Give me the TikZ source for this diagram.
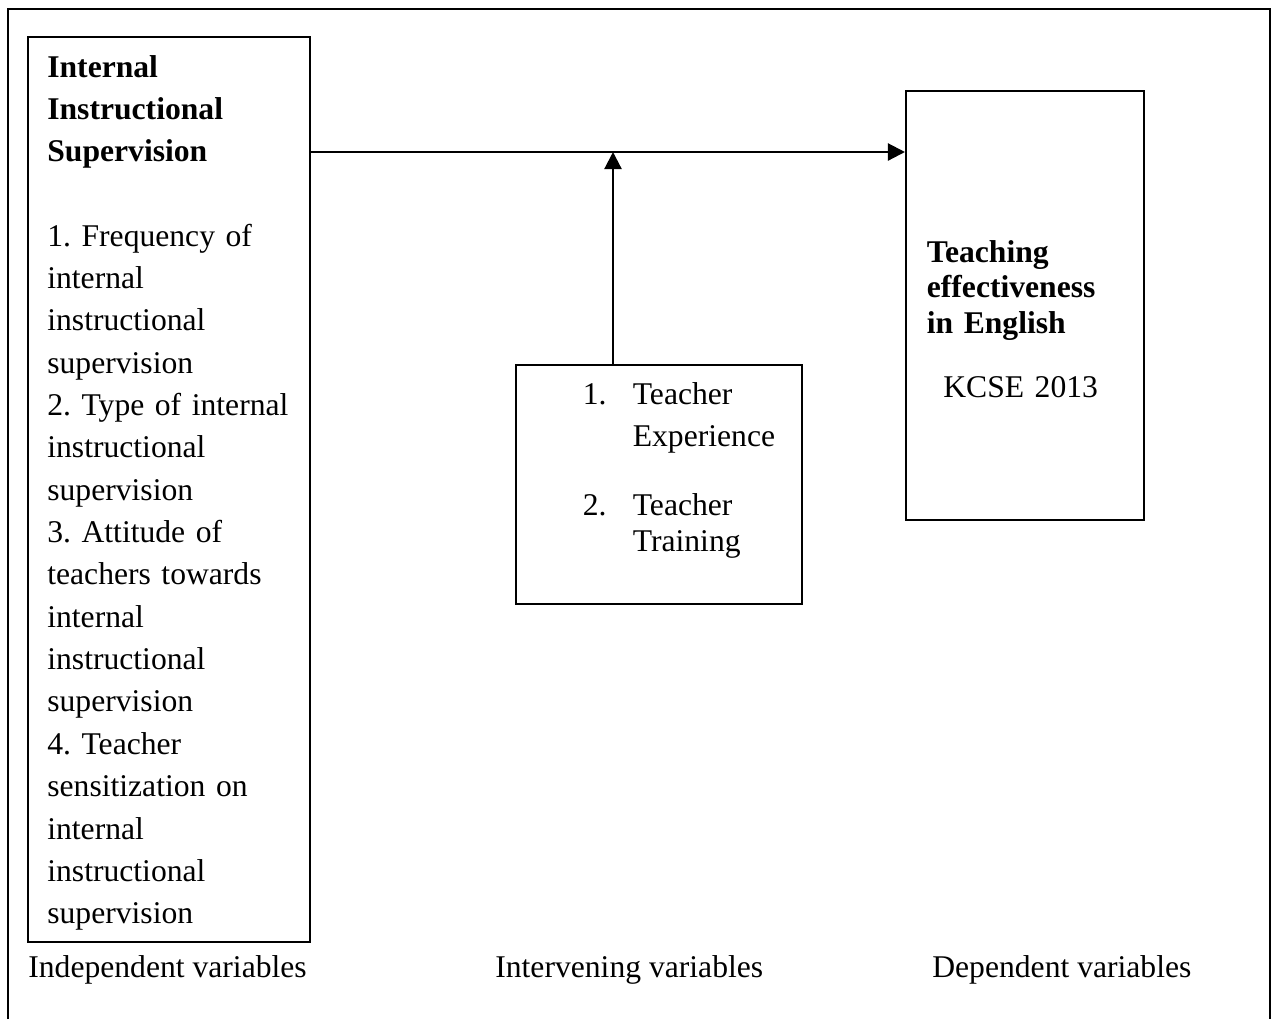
\documentclass[tikz,border=0pt]{standalone}
\usepackage{fontspec}
\setmainfont{Liberation Serif}
\usetikzlibrary{arrows.meta, positioning}

\begin{document}
\begin{tikzpicture}[
    x=0.02cm, y=-0.02cm,
    font=\fontsize{18}{24}\selectfont\frenchspacing,
    block/.style={rectangle, draw, line width=1.2pt, inner sep=0pt},
    txt/.style={anchor=base west, inner sep=0pt, align=left},
    link/.style={-{Triangle[length=0.34cm, width=0.34cm]}, line width=1.25pt}
]
\useasboundingbox (0,0) rectangle (1273,1019);

% Outer frame
\draw[line width=1.2pt] (8,1019) -- (8,9) -- (1270,9) -- (1270,1019);

% Variable boxes
\node[block, minimum width=5.64cm, minimum height=18.10cm] (indep) at (169,489.5) {};
\node[block, minimum width=5.72cm, minimum height=4.78cm] (interv) at (659,484.5) {};
\node[block, minimum width=4.76cm, minimum height=8.58cm] (dep) at (1025,305.5) {};

% Box contents
\node[txt, text width=5.2cm, font=\fontsize{18}{24.1}\selectfont\frenchspacing] (indeptext) at (47,77) {\textbf{Internal}\\ \textbf{Instructional}\\ \textbf{Supervision}\\[24pt]
    1. Frequency of\\ internal\\ instructional\\ supervision\\
    2. Type of internal\\ instructional\\ supervision\\
    3. Attitude of\\ teachers towards\\ internal\\ instructional\\ supervision\\
    4. Teacher\\ sensitization on\\ internal\\ instructional\\ supervision};
\node[txt, text width=4.5cm] (intervtext) at (582.5,404) {\makebox[1cm][l]{1.}Teacher\\ \hspace*{1cm}Experience\\[15.7pt]
    \makebox[1cm][l]{2.}Teacher\\[-3.6pt] \hspace*{1cm}Training};
\node[txt, text width=4.3cm, font=\fontsize{18}{20.4}\selectfont\frenchspacing] (deptext) at (926.5,262) {\textbf{Teaching}\\ \textbf{effectiveness}\\ \textbf{in English}\\[15.9pt]
    \hspace*{0.33cm}KCSE 2013};

% Captions
\node[txt] (indeplabel) at (28,977) {Independent variables};
\node[txt] (intervlabel) at (495,977) {Intervening variables};
\node[txt] (deplabel) at (932,977) {Dependent variables};

% Connections
\coordinate (junction) at (613,152);
\draw[link] (indep.east |- junction) -- (dep.west |- junction);
\draw[link] (junction |- interv.north) -- (junction);

\end{tikzpicture}
\end{document}
